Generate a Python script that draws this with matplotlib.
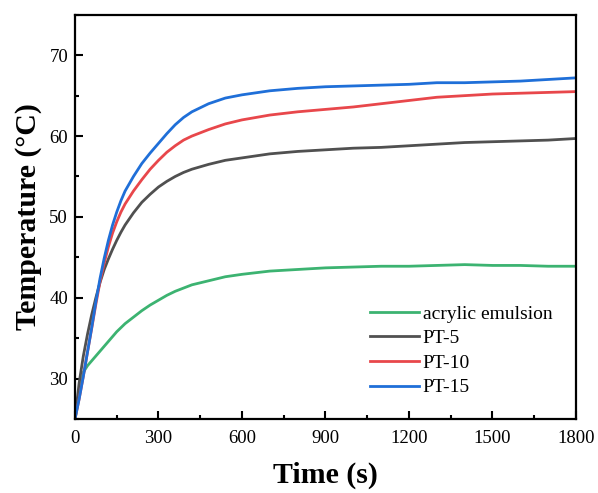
import matplotlib
matplotlib.use("Agg")
import matplotlib.pyplot as plt
from matplotlib.ticker import MultipleLocator

plt.rcParams['font.family'] = ['Liberation Serif', 'DejaVu Serif']

# Time axis (s)
time_s = [0, 15, 30, 45, 60, 75, 90, 105, 120, 135, 150, 165, 180, 210, 240,
          270, 300, 330, 360, 390, 420, 480, 540, 600, 700, 800, 900, 1000,
          1100, 1200, 1300, 1400, 1500, 1600, 1700, 1800]

# Surface temperature (°C) for each coating
acrylic = [25.0, 28.0, 30.8, 31.6, 32.2, 32.8, 33.4, 34.0, 34.6, 35.2, 35.8,
           36.3, 36.8, 37.6, 38.4, 39.1, 39.7, 40.3, 40.8, 41.2, 41.6, 42.1,
           42.6, 42.9, 43.3, 43.5, 43.7, 43.8, 43.9, 43.9, 44.0, 44.1, 44.0,
           44.0, 43.9, 43.9]
pt5 = [25.0, 29.5, 32.8, 35.5, 37.9, 40.0, 41.9, 43.5, 44.8, 46.0, 47.1,
       48.1, 49.0, 50.5, 51.8, 52.8, 53.7, 54.4, 55.0, 55.5, 55.9, 56.5,
       57.0, 57.3, 57.8, 58.1, 58.3, 58.5, 58.6, 58.8, 59.0, 59.2, 59.3,
       59.4, 59.5, 59.7]
pt10 = [25.0, 27.5, 30.3, 33.3, 36.2, 39.2, 42.0, 44.3, 46.3, 48.0, 49.4,
        50.6, 51.6, 53.2, 54.6, 55.9, 57.0, 58.0, 58.8, 59.5, 60.0, 60.8,
        61.5, 62.0, 62.6, 63.0, 63.3, 63.6, 64.0, 64.4, 64.8, 65.0, 65.2,
        65.3, 65.4, 65.5]
pt15 = [25.0, 27.5, 30.3, 33.3, 36.3, 39.5, 42.4, 44.9, 47.1, 49.0, 50.6,
        52.0, 53.2, 55.0, 56.6, 57.9, 59.1, 60.3, 61.4, 62.3, 63.0, 64.0,
        64.7, 65.1, 65.6, 65.9, 66.1, 66.2, 66.3, 66.4, 66.6, 66.6, 66.7,
        66.8, 67.0, 67.2]

series = [
    ("acrylic emulsion", acrylic, "#3cb371"),
    ("PT-5", pt5, "#505050"),
    ("PT-10", pt10, "#e8474b"),
    ("PT-15", pt15, "#1f6fd8"),
]

fig = plt.figure(figsize=(5.98, 4.93), dpi=100)
ax = fig.add_axes([0.1254, 0.150, 0.8378, 0.820])

for label, values, color in series:
    ax.plot(time_s, values, color=color, lw=2.0, label=label)

ax.set_xlim(0, 1800)
ax.set_ylim(25, 75)
ax.xaxis.set_major_locator(MultipleLocator(300))
ax.xaxis.set_minor_locator(MultipleLocator(150))
ax.yaxis.set_major_locator(MultipleLocator(10))
ax.yaxis.set_minor_locator(MultipleLocator(5))

ax.tick_params(which='both', direction='in', width=1.5, labelsize=13.5,
               top=False, right=False)
ax.tick_params(which='major', length=5.5)
ax.tick_params(which='minor', length=3)
ax.tick_params(axis='x', which='major', pad=8)
ax.tick_params(axis='y', which='major', pad=5)
for sp in ax.spines.values():
    sp.set_linewidth(1.6)

ax.set_xlabel("Time (s)", fontsize=21.5, fontweight='bold', labelpad=10.5)
ax.set_ylabel("Temperature (°C)", fontsize=21.5, fontweight='bold', labelpad=5)

ax.legend(loc='lower left', bbox_to_anchor=(0.589, 0.056), frameon=False,
          fontsize=14, handlelength=2.5, handletextpad=0.2,
          labelspacing=0.36, borderaxespad=0, borderpad=0)

fig.savefig("out.png", dpi=100)
